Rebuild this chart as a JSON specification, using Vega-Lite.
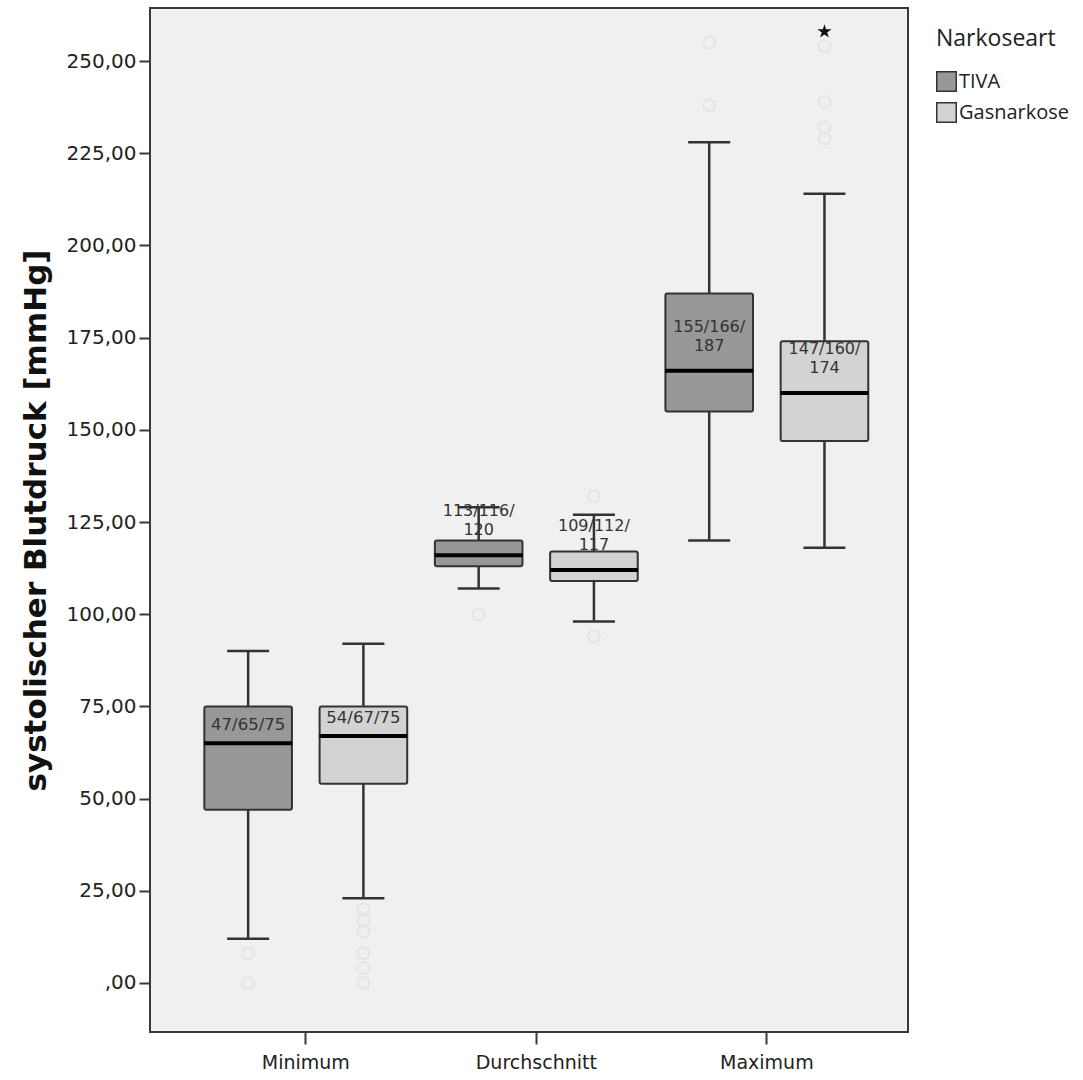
{
  "$schema": "https://vega.github.io/schema/vega-lite/v6.json",
  "autosize": {"type": "none"},
  "padding": {"left": 150, "top": 8, "right": 175, "bottom": 48},
  "width": 758,
  "height": 1024,
  "background": "white",
  "datasets": {
    "boxes": [
      {"Messung": "Minimum", "Narkoseart": "TIVA", "lo": 12, "q1": 47, "med": 65, "q3": 75, "hi": 90, "label": "47/65/75"},
      {"Messung": "Minimum", "Narkoseart": "Gasnarkose", "lo": 23, "q1": 54, "med": 67, "q3": 75, "hi": 92, "label": "54/67/75"},
      {"Messung": "Durchschnitt", "Narkoseart": "TIVA", "lo": 107, "q1": 113, "med": 116, "q3": 120, "hi": 129, "label": "113/116/\n120"},
      {"Messung": "Durchschnitt", "Narkoseart": "Gasnarkose", "lo": 98, "q1": 109, "med": 112, "q3": 117, "hi": 127, "label": "109/112/\n117"},
      {"Messung": "Maximum", "Narkoseart": "TIVA", "lo": 120, "q1": 155, "med": 166, "q3": 187, "hi": 228, "label": "155/166/\n187"},
      {"Messung": "Maximum", "Narkoseart": "Gasnarkose", "lo": 118, "q1": 147, "med": 160, "q3": 174, "hi": 214, "label": "147/160/\n174"}
    ],
    "outliers": [
      {"Messung": "Minimum", "Narkoseart": "TIVA", "wert": 8, "art": "Ausreißer"},
      {"Messung": "Minimum", "Narkoseart": "TIVA", "wert": 0, "art": "Ausreißer"},
      {"Messung": "Minimum", "Narkoseart": "Gasnarkose", "wert": 20, "art": "Ausreißer"},
      {"Messung": "Minimum", "Narkoseart": "Gasnarkose", "wert": 17, "art": "Ausreißer"},
      {"Messung": "Minimum", "Narkoseart": "Gasnarkose", "wert": 14, "art": "Ausreißer"},
      {"Messung": "Minimum", "Narkoseart": "Gasnarkose", "wert": 8, "art": "Ausreißer"},
      {"Messung": "Minimum", "Narkoseart": "Gasnarkose", "wert": 4, "art": "Ausreißer"},
      {"Messung": "Minimum", "Narkoseart": "Gasnarkose", "wert": 0, "art": "Ausreißer"},
      {"Messung": "Durchschnitt", "Narkoseart": "TIVA", "wert": 100, "art": "Ausreißer"},
      {"Messung": "Durchschnitt", "Narkoseart": "Gasnarkose", "wert": 132, "art": "Ausreißer"},
      {"Messung": "Durchschnitt", "Narkoseart": "Gasnarkose", "wert": 94, "art": "Ausreißer"},
      {"Messung": "Maximum", "Narkoseart": "TIVA", "wert": 255, "art": "Ausreißer"},
      {"Messung": "Maximum", "Narkoseart": "TIVA", "wert": 238, "art": "Ausreißer"},
      {"Messung": "Maximum", "Narkoseart": "Gasnarkose", "wert": 254, "art": "Ausreißer"},
      {"Messung": "Maximum", "Narkoseart": "Gasnarkose", "wert": 239, "art": "Ausreißer"},
      {"Messung": "Maximum", "Narkoseart": "Gasnarkose", "wert": 232, "art": "Ausreißer"},
      {"Messung": "Maximum", "Narkoseart": "Gasnarkose", "wert": 229, "art": "Ausreißer"},
      {"Messung": "Maximum", "Narkoseart": "Gasnarkose", "wert": 258, "art": "Extremwert"}
    ]
  },
  "config": {
    "view": {"fill": "#f0f0f0", "stroke": "#3a3a3a", "strokeWidth": 2},
    "axis": {
      "labelFont": "DejaVu Sans",
      "labelColor": "#222222",
      "tickColor": "#3a3a3a",
      "tickWidth": 2,
      "domain": false,
      "grid": false
    },
    "legend": {
      "titleFont": "Open Sans",
      "labelFont": "Open Sans"
    }
  },
  "encoding": {
    "x": {
      "field": "Messung",
      "type": "nominal",
      "sort": ["Minimum", "Durchschnitt", "Maximum"],
      "scale": {"paddingInner": 0, "paddingOuter": 0.144, "align": 0.61},
      "axis": {
        "title": null,
        "labelAngle": 0,
        "labelFontSize": 19,
        "labelPadding": 9,
        "tickSize": 12
      }
    },
    "xOffset": {
      "field": "Narkoseart",
      "type": "nominal",
      "sort": ["TIVA", "Gasnarkose"],
      "scale": {"paddingInner": 0.24, "paddingOuter": 0.12}
    }
  },
  "layer": [
    {
      "data": {"name": "boxes"},
      "mark": {"type": "rule", "color": "#333333", "strokeWidth": 2.5},
      "encoding": {
        "y": {
          "field": "lo",
          "type": "quantitative",
          "scale": {"domain": [-13.3, 264.4], "nice": false, "zero": false},
          "axis": {
            "title": "systolischer Blutdruck [mmHg]",
            "titleFont": "DejaVu Sans",
            "titleFontWeight": "bold",
            "titleFontSize": 31,
            "titleColor": "#111111",
            "titlePadding": 14,
            "values": [0, 25, 50, 75, 100, 125, 150, 175, 200, 225, 250],
            "labelExpr": "datum.value == 0 ? ',00' : replace(format(datum.value, '.2f'), '.', ',')",
            "labelFontSize": 20,
            "labelPadding": 3,
            "tickSize": 11
          }
        },
        "y2": {"field": "hi"}
      }
    },
    {
      "data": {"name": "boxes"},
      "mark": {"type": "bar", "stroke": "#333333", "strokeWidth": 2, "cornerRadius": 2},
      "encoding": {
        "y": {"field": "q1", "type": "quantitative"},
        "y2": {"field": "q3"},
        "color": {
          "field": "Narkoseart",
          "type": "nominal",
          "sort": ["TIVA", "Gasnarkose"],
          "scale": {"domain": ["TIVA", "Gasnarkose"], "range": ["#989898", "#d3d3d3"]},
          "legend": {
            "title": "Narkoseart",
            "titleFontSize": 23,
            "titleFontWeight": "normal",
            "titleColor": "#222222",
            "titlePadding": 20,
            "labelFontSize": 20,
            "labelColor": "#222222",
            "labelOffset": 2,
            "symbolType": "square",
            "symbolSize": 380,
            "symbolStrokeColor": "#333333",
            "symbolStrokeWidth": 1.5,
            "rowPadding": 4,
            "padding": 20,
            "offset": 8
          }
        }
      }
    },
    {
      "data": {"name": "boxes"},
      "mark": {"type": "tick", "color": "#000000", "thickness": 4, "size": 88, "opacity": 1},
      "encoding": {
        "y": {"field": "med", "type": "quantitative"}
      }
    },
    {
      "data": {"name": "boxes"},
      "mark": {"type": "tick", "color": "#333333", "thickness": 2.5, "size": 42, "opacity": 1},
      "encoding": {
        "y": {"field": "hi", "type": "quantitative"}
      }
    },
    {
      "data": {"name": "boxes"},
      "mark": {"type": "tick", "color": "#333333", "thickness": 2.5, "size": 42, "opacity": 1},
      "encoding": {
        "y": {"field": "lo", "type": "quantitative"}
      }
    },
    {
      "data": {"name": "boxes"},
      "transform": [{"filter": "datum.Messung == 'Minimum'"}],
      "mark": {"type": "text", "font": "DejaVu Sans", "fontSize": 16.5, "color": "#333333", "baseline": "middle", "dy": -18},
      "encoding": {
        "y": {"field": "med", "type": "quantitative"},
        "text": {"field": "label"}
      }
    },
    {
      "data": {"name": "boxes"},
      "transform": [{"filter": "datum.Messung != 'Minimum'"}],
      "mark": {"type": "text", "font": "DejaVu Sans", "fontSize": 16, "color": "#333333", "baseline": "middle", "lineBreak": "\n", "lineHeight": 19, "dy": -44},
      "encoding": {
        "y": {"field": "med", "type": "quantitative"},
        "text": {"field": "label"}
      }
    },
    {
      "data": {"name": "outliers"},
      "transform": [{"filter": "datum.art == 'Ausreißer'"}],
      "mark": {"type": "point", "shape": "circle", "filled": false, "stroke": "#e4e4e4", "strokeWidth": 2, "size": 140, "opacity": 1},
      "encoding": {
        "y": {"field": "wert", "type": "quantitative"}
      }
    },
    {
      "data": {"name": "outliers"},
      "transform": [{"filter": "datum.art == 'Extremwert'"}],
      "mark": {"type": "point", "shape": "M0,-1L0.22,-0.31L0.95,-0.31L0.36,0.12L0.59,0.81L0,0.38L-0.59,0.81L-0.36,0.12L-0.95,-0.31L-0.22,-0.31Z", "filled": true, "color": "#111111", "size": 220, "opacity": 1},
      "encoding": {
        "y": {"field": "wert", "type": "quantitative"}
      }
    }
  ]
}
